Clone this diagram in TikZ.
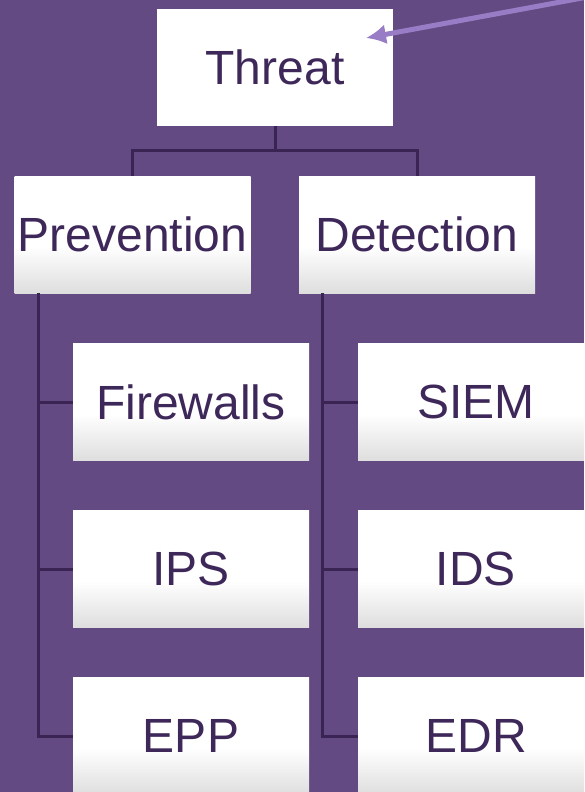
\documentclass[tikz,border=0pt]{standalone}
\usepackage{fontspec}
\setmainfont{Liberation Sans}
\usepackage{xcolor}
\usetikzlibrary{positioning,calc,arrows.meta}

\definecolor{bgpurple}{RGB}{100,74,130}
\definecolor{txtpurple}{RGB}{62,40,90}
\definecolor{linepurple}{RGB}{58,36,84}
\definecolor{arrowpurple}{RGB}{152,124,198}
\definecolor{cardgray}{RGB}{222,222,222}

\pgfdeclareverticalshading{cardfade}{100bp}{color(0bp)=(cardgray); color(25bp)=(cardgray);
    color(45bp)=(white); color(75bp)=(white); color(100bp)=(white)}

\tikzset{
    box/.style={minimum width=236pt, minimum height=117pt, inner sep=0pt,
        text=txtpurple, font=\fontsize{48}{58}\selectfont},
    topcard/.style={box, fill=white},
    card/.style={box, shading=cardfade},
    tree/.style={draw=linepurple, line width=3pt}
}

\begin{document}
\begin{tikzpicture}[x=1pt,y=-1pt]
    \useasboundingbox (0,0) rectangle (584,792);
    \clip (0,0) rectangle (584,792);
    \fill[bgpurple] (0,0) rectangle (584,792);

    % Top
    \node[topcard] (threat) at (275,67.5) {Threat};
    \node[card] (prev) at (132.5,234.5) {Prevention};
    \node[card] (det) at (417,234.5) {Detection};
    \draw[tree] (threat.south) -- ++(0,24) -| (prev.north);
    \draw[tree] (threat.south) -- ++(0,24) -| (det.north);

    % Prevention side
    \foreach \n/\t/\y in {fw/Firewalls/402, ips/IPS/569, epp/EPP/736} {
        \node[card] (\n) at (191,\y) {\t};
        \draw[tree] ([xshift=24pt]prev.south west) |- (\n.west);
    }

    % Detection side
    \foreach \n/\t/\y in {siem/SIEM/402, ids/IDS/569, edr/EDR/736} {
        \node[card] (\n) at (476,\y) {\t};
        \draw[tree] ([xshift=24pt]det.south west) |- (\n.west);
    }

    % Pointer
    \coordinate (from) at (620,-9);
    \coordinate (tip) at (366,38);
    \draw[arrowpurple, line width=5pt, -{Latex[length=20pt,width=20pt]}] (from) -- (tip);
\end{tikzpicture}
\end{document}
